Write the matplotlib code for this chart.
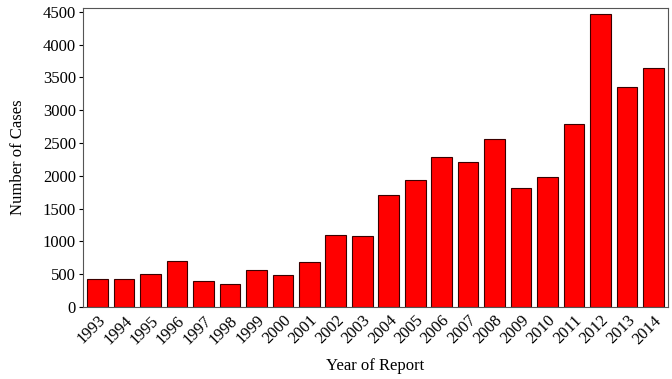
import matplotlib
matplotlib.use("Agg")
import matplotlib.pyplot as plt
import numpy as np

years = [str(y) for y in range(1993, 2015)]
cases = [425, 425, 508, 700, 395, 350, 570, 487, 686, 1099, 1079,
         1706, 1931, 2283, 2215, 2558, 1808, 1981, 2792, 4470, 3358, 3644]

plt.rcParams['font.family'] = ['Liberation Serif', 'DejaVu Serif']

fig = plt.figure(figsize=(6.72, 3.79), dpi=100)
ax = fig.add_axes([0.1235, 0.19, 0.8705, 0.789])

x = np.arange(len(years))
ax.bar(x, cases, width=0.78, color='#ff0000', edgecolor='#3a0000', linewidth=0.8)

ax.set_xlim(-0.55, len(years) - 0.45)
ax.set_ylim(0, 4560)
ax.set_yticks(range(0, 4501, 500))
ax.set_xticks(x)
ax.set_xticklabels(years, rotation=45, ha='right', rotation_mode='anchor', fontsize=12)
ax.tick_params(axis='x', length=0, pad=4)
ax.tick_params(axis='y', length=3, labelsize=12, pad=2)

for s in ax.spines.values():
    s.set_color('#555555')
    s.set_linewidth(0.8)

ax.set_xlabel("Year of Report", fontsize=12, labelpad=8)
ax.set_ylabel("Number of Cases", fontsize=12, labelpad=12)

plt.savefig("out.png", dpi=100)
